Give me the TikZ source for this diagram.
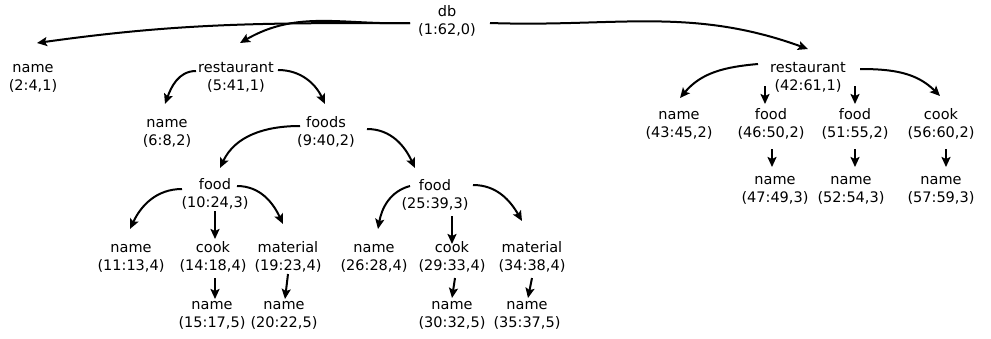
\documentclass[tikz,border=0pt]{standalone}
\usepackage{fontspec}
\setmainfont{DejaVu Sans}
\usetikzlibrary{arrows.meta}
\newcommand{\twol}[2]{\strut#1\\\strut#2}
\begin{document}
\begin{tikzpicture}[x=1pt,y=1pt,
  lbl/.style={inner sep=0pt, align=center, font=\fontsize{14.5}{18}\selectfont},
  arr/.style={line width=2pt, -{Stealth[length=10pt,width=9pt,inset=2pt]}}]
\useasboundingbox (0,0) rectangle (991,-338);
% nodes
\node[lbl] (db)    at (447,-22)  {\twol{db}{(1:62,0)}};
\node[lbl] (n1)    at (33,-78)   {\twol{name}{(2:4,1)}};
\node[lbl] (r1)    at (236,-78)  {\twol{restaurant}{(5:41,1)}};
\node[lbl] (n2)    at (167,-133) {\twol{name}{(6:8,2)}};
\node[lbl] (foods) at (326,-133) {\twol{foods}{(9:40,2)}};
\node[lbl] (food1) at (215,-195) {\twol{food}{(10:24,3)}};
\node[lbl] (food2) at (435,-196) {\twol{food}{(25:39,3)}};
\node[lbl] (n11)   at (131,-258) {\twol{name}{(11:13,4)}};
\node[lbl] (cook1) at (213,-258) {\twol{cook}{(14:18,4)}};
\node[lbl] (mat1)  at (288,-258) {\twol{material}{(19:23,4)}};
\node[lbl] (n15)   at (212,-315) {\twol{name}{(15:17,5)}};
\node[lbl] (n20)   at (284,-315) {\twol{name}{(20:22,5)}};
\node[lbl] (n26)   at (374,-258) {\twol{name}{(26:28,4)}};
\node[lbl] (cook2) at (452,-258) {\twol{cook}{(29:33,4)}};
\node[lbl] (mat2)  at (532,-258) {\twol{material}{(34:38,4)}};
\node[lbl] (n30)   at (452,-315) {\twol{name}{(30:32,5)}};
\node[lbl] (n35)   at (527,-315) {\twol{name}{(35:37,5)}};
\node[lbl] (r2)    at (808,-78)  {\twol{restaurant}{(42:61,1)}};
\node[lbl] (n43)   at (679,-125) {\twol{name}{(43:45,2)}};
\node[lbl] (f46)   at (771,-125) {\twol{food}{(46:50,2)}};
\node[lbl] (f51)   at (855,-125) {\twol{food}{(51:55,2)}};
\node[lbl] (c56)   at (941,-125) {\twol{cook}{(56:60,2)}};
\node[lbl] (n47)   at (775,-190) {\twol{name}{(47:49,3)}};
\node[lbl] (n52)   at (851,-190) {\twol{name}{(52:54,3)}};
\node[lbl] (n57)   at (941,-190) {\twol{name}{(57:59,3)}};
% connectors
\draw[arr] ([shift={(-37,-1)}]db.center) to[out=180,in=8] ([shift={(4,35)}]n1.center);
\draw[arr] ([shift={(-37,-1)}]db.center) to[out=182,in=30] ([shift={(4,35)}]r1.center);
\draw[arr] ([shift={(43,-1)}]db.center) to[out=-2,in=160] ([shift={(0,29)}]r2.center);
\draw[arr] ([shift={(-40,7)}]r1.center) to[out=180,in=70] ([shift={(-2,29)}]n2.center);
\draw[arr] ([shift={(42,8)}]r1.center) to[out=0,in=115] ([shift={(-1,29)}]foods.center);
\draw[arr] ([shift={(-26,7)}]foods.center) to[out=180,in=65] ([shift={(5,27)}]food1.center);
\draw[arr] ([shift={(41,4)}]foods.center) to[out=0,in=115] ([shift={(-20,28)}]food2.center);
\draw[arr] ([shift={(-33,6)}]food1.center) to[out=180,in=65] ([shift={(-1,29)}]n11.center);
\draw[arr] ([shift={(0,-16)}]food1.center) -- ([shift={(2,19)}]cook1.center);
\draw[arr] ([shift={(22,9)}]food1.center) to[out=0,in=115] ([shift={(-5,34)}]mat1.center);
\draw[arr] ([shift={(2,-20)}]cook1.center) -- ([shift={(3,16)}]n15.center);
\draw[arr] ([shift={(0,-16)}]mat1.center) -- ([shift={(1,16)}]n20.center);
\draw[arr] ([shift={(-25,10)}]food2.center) to[out=195,in=80] ([shift={(4,29)}]n26.center);
\draw[arr] ([shift={(17,-20)}]food2.center) -- ([shift={(0,14)}]cook2.center);
\draw[arr] ([shift={(38,11)}]food2.center) to[out=0,in=120] ([shift={(-10,37)}]mat2.center);
\draw[arr] ([shift={(3,-20)}]cook2.center) -- ([shift={(0,17)}]n30.center);
\draw[arr] ([shift={(0,-20)}]mat2.center) -- ([shift={(1,17)}]n35.center);
\draw[arr] ([shift={(-50,14)}]r2.center) to[out=185,in=50] ([shift={(1,27)}]n43.center);
\draw[arr] ([shift={(-43,-8)}]r2.center) -- ([shift={(-6,21)}]f46.center);
\draw[arr] ([shift={(47,-8)}]r2.center) -- ([shift={(0,21)}]f51.center);
\draw[arr] ([shift={(52,9)}]r2.center) to[out=0,in=135] ([shift={(-1,29)}]c56.center);
\draw[arr] ([shift={(1,-24)}]f46.center) -- ([shift={(-3,23)}]n47.center);
\draw[arr] ([shift={(0,-24)}]f51.center) -- ([shift={(4,23)}]n52.center);
\draw[arr] ([shift={(5,-24)}]c56.center) -- ([shift={(5,23)}]n57.center);
\end{tikzpicture}
\end{document}
